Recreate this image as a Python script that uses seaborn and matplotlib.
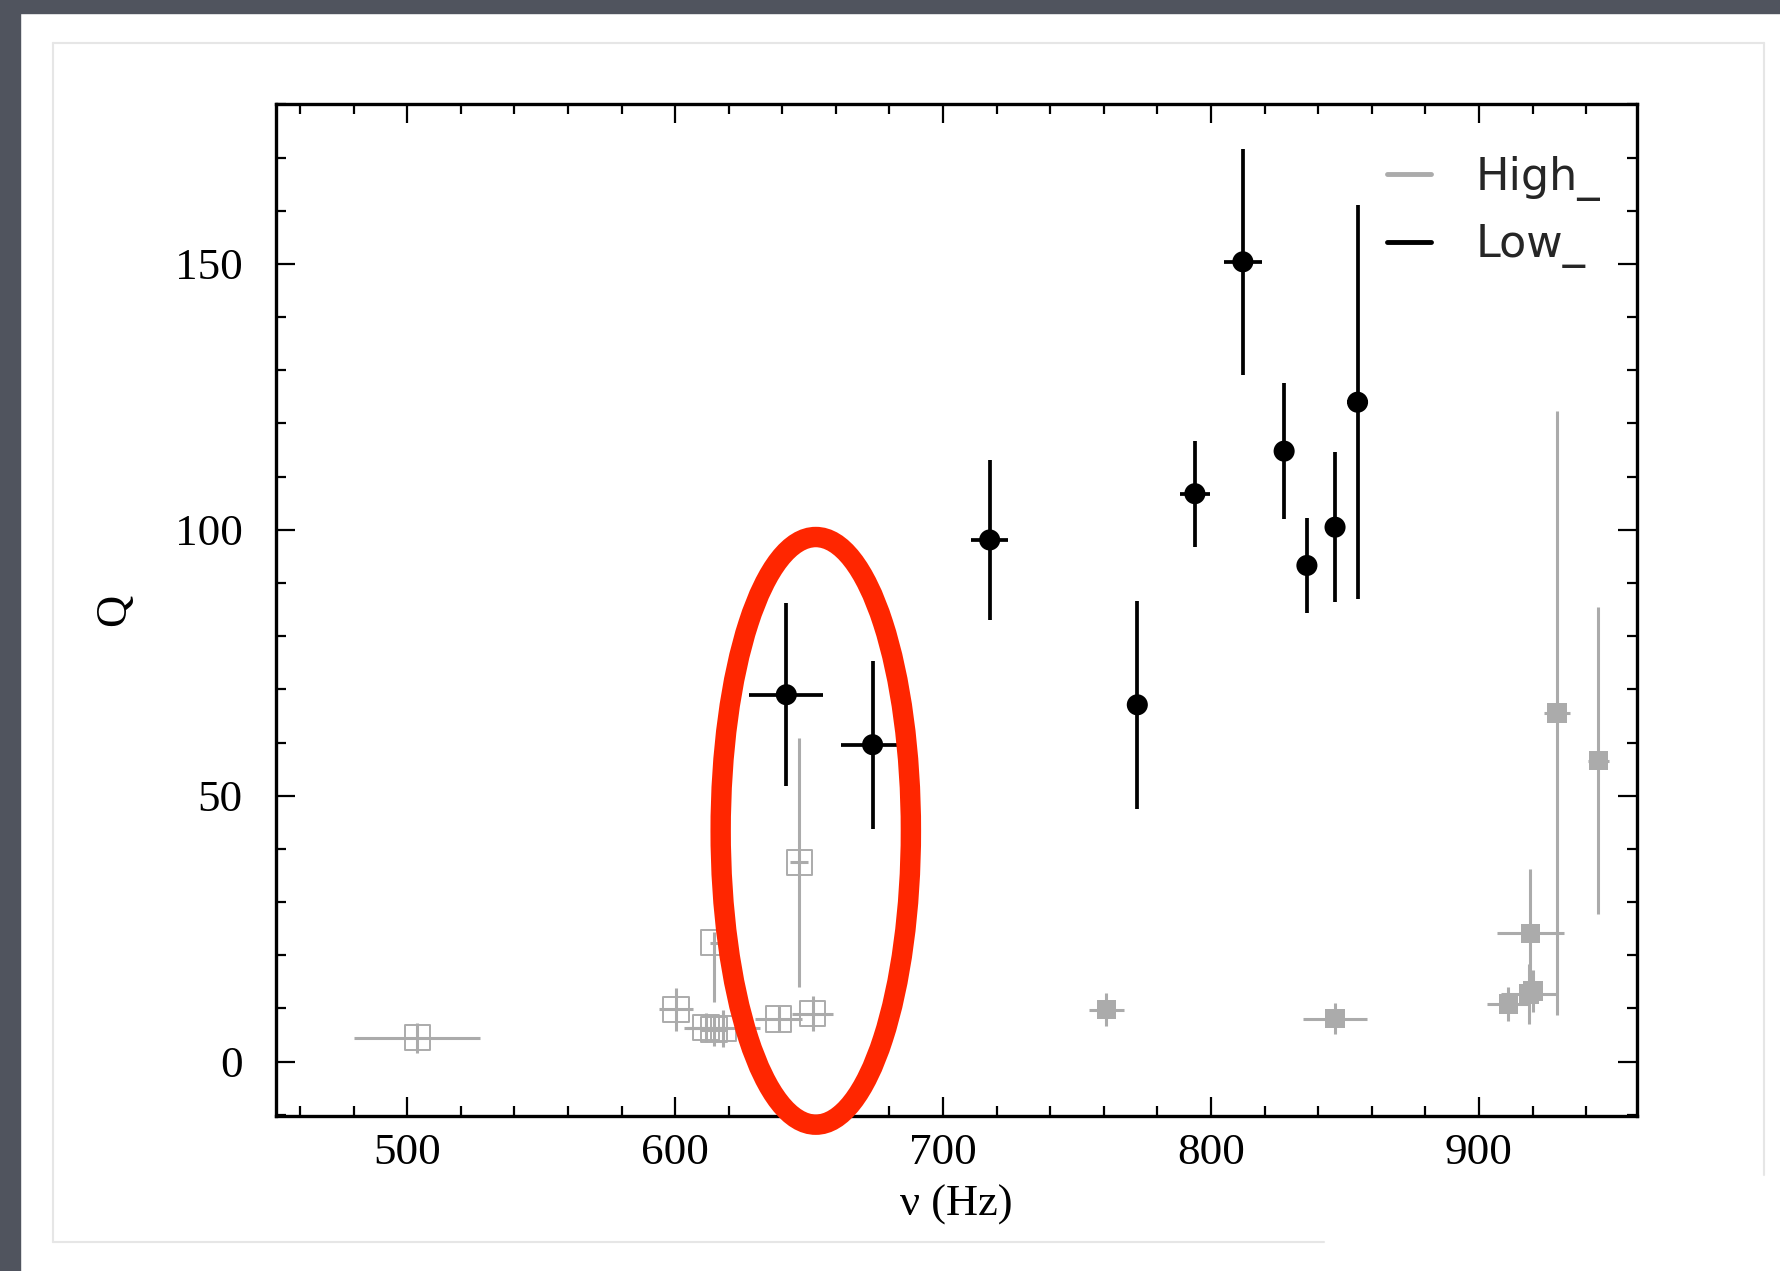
import numpy as np
import pandas as pd
import matplotlib.pyplot as plt
import seaborn as sns
from matplotlib.patches import Ellipse, Rectangle
from matplotlib.lines import Line2D
from matplotlib.ticker import MultipleLocator

# Low-frequency QPOs (black circles)
low_freq = [641.5, 673.7, 717.4, 772.5, 794.0, 811.9, 827.3, 835.8, 846.3, 854.7]
low_q = [69.0, 59.6, 98.1, 67.1, 106.8, 150.4, 114.8, 93.3, 100.5, 124.0]
low_freq_err = [13.8, 11.7, 6.8, 3.6, 5.5, 7.0, 1.0, 1.0, 1.0, 4.0]
low_q_err = [17.2, 15.8, 15.0, 19.5, 10.0, 21.2, 12.8, 8.9, 14.1, 37.0]

# High-frequency QPOs, open squares
hi_open_freq = [503.8, 600.3, 614.5, 611.5, 614.5, 618.0, 638.6, 646.3, 651.3]
hi_open_q = [4.5, 9.85, 22.4, 6.4, 6.0, 6.3, 8.0, 37.5, 9.0]
hi_open_freq_err = [23.5, 6.5, 1.5, 8.0, 5.0, 13.5, 8.7, 3.3, 7.5]
hi_open_q_lo = [2.8, 4.0, 11.2, 2.7, 3.0, 3.5, 2.5, 23.5, 3.3]
hi_open_q_hi = [2.8, 4.0, 2.0, 2.7, 3.0, 3.5, 2.5, 23.3, 3.3]

# High-frequency QPOs, filled squares
hi_fill_freq = [761.0, 846.4, 911.0, 918.8, 920.3, 919.2, 929.2, 944.6]
hi_fill_q = [9.8, 8.1, 10.9, 12.7, 13.3, 24.1, 65.6, 56.6]
hi_fill_freq_err = [6.7, 12.0, 8.0, 10.5, 2.0, 12.6, 4.8, 4.0]
hi_fill_q_err = [3.1, 2.9, 3.2, 5.6, 4.0, 12.2, 56.8, 28.9]

legend_labels = ['High_', 'Low_']

# highlight ellipse (data coords)
ell_center = (652.5, 43.4)
ell_width = 71.0
ell_height = 110.5

GRAY = '#ababab'
RED = '#ff2600'
SLIDE = '#50545e'

W, H = 1780, 1271
sns.set_theme(style='ticks')
plt.rcParams['font.family'] = ['Liberation Serif', 'DejaVu Serif']

fig = plt.figure(figsize=(W / 100, H / 100), dpi=100)
fig.patch.set_facecolor('white')

# slide frame: dark band top and left
fig.add_artist(Rectangle((0, 1 - 13 / H), 1, 13 / H, transform=fig.transFigure,
                         color=SLIDE, zorder=0))
fig.add_artist(Rectangle((0, 0), 20 / W, 1, transform=fig.transFigure,
                         color=SLIDE, zorder=0))
# faint panel border
pc = '#e6e6e6'
fig.add_artist(Line2D([53 / W, 1764 / W], [1 - 43 / H, 1 - 43 / H], transform=fig.transFigure, color=pc, lw=1.5))
fig.add_artist(Line2D([53 / W, 53 / W], [1 - 43 / H, 1 - 1242 / H], transform=fig.transFigure, color=pc, lw=1.5))
fig.add_artist(Line2D([53 / W, 1324 / W], [1 - 1242 / H, 1 - 1242 / H], transform=fig.transFigure, color=pc, lw=1.5))
fig.add_artist(Line2D([1764 / W, 1764 / W], [1 - 43 / H, 1 - 1175 / H], transform=fig.transFigure, color=pc, lw=1.5))

ax = fig.add_axes([275.9 / W, 1 - 1115.9 / H, 1361.1 / W, 1011.5 / H])
ax.set_facecolor('white')

# error bars
ax.errorbar(hi_open_freq, hi_open_q, xerr=hi_open_freq_err,
            yerr=[hi_open_q_lo, hi_open_q_hi], fmt='none', ecolor=GRAY,
            elinewidth=2.2, capsize=0, zorder=2)
ax.errorbar(hi_fill_freq, hi_fill_q, xerr=hi_fill_freq_err, yerr=hi_fill_q_err,
            fmt='none', ecolor=GRAY, elinewidth=2.2, capsize=0, zorder=2)
ax.errorbar(low_freq, low_q, xerr=low_freq_err, yerr=low_q_err, fmt='none',
            ecolor='black', elinewidth=2.7, capsize=0, zorder=4)

# markers
sns.scatterplot(x=hi_open_freq, y=hi_open_q, marker='s', s=330, facecolor='none',
                edgecolor=GRAY, linewidth=1.4, legend=False, ax=ax, zorder=3)
sns.scatterplot(x=hi_fill_freq, y=hi_fill_q, marker='s', s=200, color=GRAY,
                edgecolor='none', legend=False, ax=ax, zorder=3)
sns.scatterplot(x=low_freq, y=low_q, marker='o', s=230, color='black',
                edgecolor='none', legend=False, ax=ax, zorder=5)

ax.add_patch(Ellipse(ell_center, ell_width, ell_height, fill=False,
                     edgecolor=RED, lw=14.7, zorder=6, clip_on=False))

ax.set_xlim(451, 959)
ax.set_ylim(-10.2, 180)
ax.xaxis.set_major_locator(MultipleLocator(100))
ax.xaxis.set_minor_locator(MultipleLocator(20))
ax.yaxis.set_major_locator(MultipleLocator(50))
ax.yaxis.set_minor_locator(MultipleLocator(10))
ax.tick_params(which='both', direction='in', top=True, right=True, width=1.6,
               color='black', labelsize=32.5, labelcolor='black')
ax.tick_params(which='major', length=14)
ax.tick_params(which='minor', length=7)
ax.tick_params(axis='x', which='major', pad=12)
ax.tick_params(axis='y', which='major', pad=24)
for s in ax.spines.values():
    s.set_visible(True)
    s.set_linewidth(2.4)
    s.set_color('black')
ax.grid(False)

ax.set_xlabel('ν (Hz)', fontsize=32, color='black', labelpad=9)
ax.set_ylabel('Q', fontsize=32, color='black', labelpad=29)

handles = [Line2D([0], [0], color=GRAY, lw=3.5), Line2D([0], [0], color='black', lw=3.5)]
ax.legend(handles, legend_labels, loc='upper left', bbox_to_anchor=(0.8163, 0.949),
          frameon=False, borderpad=0, borderaxespad=0, handlelength=1.0,
          handletextpad=1.0, labelspacing=0.5,
          prop={'family': 'DejaVu Sans', 'size': 32})

fig.savefig('out.png', dpi=100, facecolor=fig.get_facecolor())
